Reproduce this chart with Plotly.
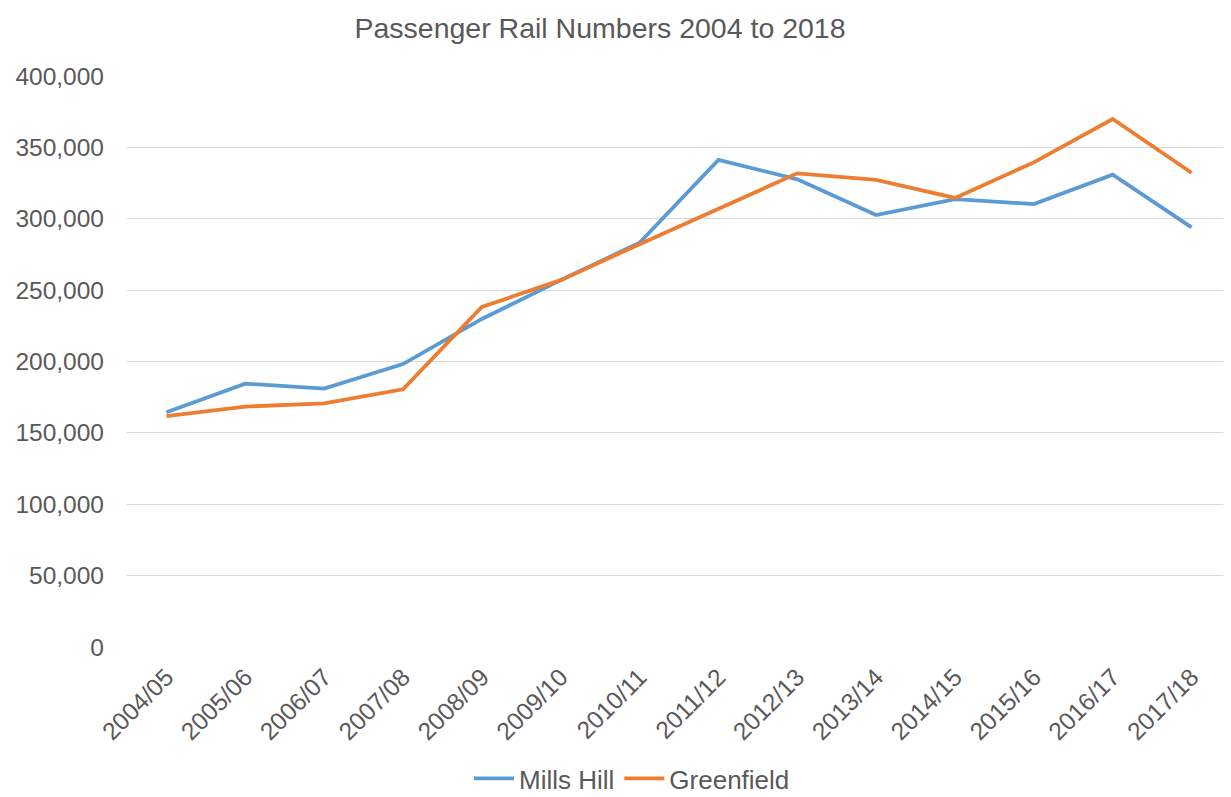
import plotly.graph_objects as go

years = ["2004/05", "2005/06", "2006/07", "2007/08", "2008/09", "2009/10", "2010/11",
         "2011/12", "2012/13", "2013/14", "2014/15", "2015/16", "2016/17", "2017/18"]
mills_hill = [164400, 184500, 181000, 198200, 229800, 257000, 283200,
              341200, 327600, 302600, 313800, 310300, 330900, 294000]
greenfield = [161800, 168400, 170600, 180500, 238200, 257000, 282200,
              307000, 331800, 327300, 314600, 339500, 369900, 332200]

TEXT = "#595959"
FONT = "Liberation Sans, Arial, sans-serif"

# page body has an 8px margin; figure is sized to fill the rest of the window
W, H = 1223, 789

fig = go.Figure()
fig.add_trace(go.Scatter(x=years, y=mills_hill, name="Mills Hill", mode="lines",
                         line=dict(color="#5B9BD5", width=3.8)))
fig.add_trace(go.Scatter(x=years, y=greenfield, name="Greenfield", mode="lines",
                         line=dict(color="#ED7D31", width=3.8)))

fig.update_layout(
    width=W, height=H,
    margin=dict(l=119, r=0, t=68, b=150, autoexpand=False),
    paper_bgcolor="white", plot_bgcolor="white",
    font=dict(family=FONT, color=TEXT, size=24.5),
    title=dict(text="Passenger Rail Numbers 2004 to 2018", x=592/W, xref="container",
               xanchor="center", y=1-20/H, yref="container", yanchor="middle",
               font=dict(size=28.5, color=TEXT, family=FONT)),
    showlegend=True,
    legend=dict(orientation="h", x=(632-127)/1104, xref="paper", xanchor="center",
                y=-(802-647)/571, yref="paper", yanchor="bottom",
                font=dict(size=26, color=TEXT, family=FONT), itemwidth=40),
    xaxis=dict(type="category", range=[-0.5, 13.5], showgrid=False, zeroline=False,
               showline=False, tickangle=-45, ticks="", ticklabelstandoff=10,
               automargin=False, tickfont=dict(size=24.5, color=TEXT)),
    yaxis=dict(range=[0, 400000], dtick=50000, tickformat=",d", showgrid=True,
               gridcolor="#D9D9D9", gridwidth=1.3, zeroline=False, showline=False,
               ticks="", ticklabelstandoff=22, automargin=False,
               tickfont=dict(size=24.5, color=TEXT)),
)

fig.write_html("out.html")
